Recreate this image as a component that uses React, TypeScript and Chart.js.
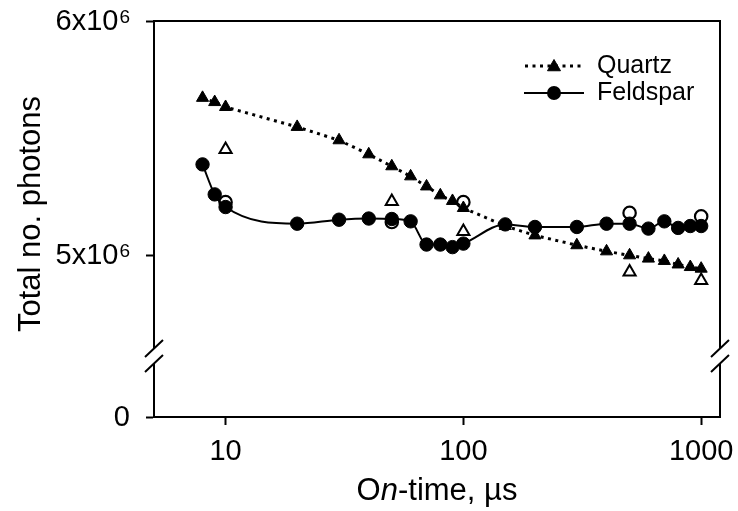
import React, { useEffect, useRef } from 'react';
import { Chart, registerables } from 'chart.js';

Chart.register(...registerables);

// ---------- data ----------
const onTimes = [8, 9, 10, 20, 30, 40, 50, 60, 70, 80, 90, 100, 150, 200, 300, 400, 500, 600, 700, 800, 900, 1000];
const quartzTotals = [5.672e6, 5.654e6, 5.633e6, 5.548e6, 5.491e6, 5.431e6, 5.38e6, 5.337e6, 5.294e6, 5.256e6, 5.232e6, 5.202e6, 5.125e6, 5.085e6, 5.043e6, 5.017e6, 5.0e6, 4.986e6, 4.976e6, 4.961e6, 4.95e6, 4.943e6];
const feldsparTotals = [5.388e6, 5.26e6, 5.206e6, 5.135e6, 5.152e6, 5.157e6, 5.155e6, 5.145e6, 5.046e6, 5.046e6, 5.035e6, 5.05e6, 5.132e6, 5.121e6, 5.121e6, 5.135e6, 5.135e6, 5.114e6, 5.145e6, 5.117e6, 5.125e6, 5.125e6];
const checkTimes = [10, 50, 100, 500, 1000];
const quartzCheck = [5.452e6, 5.23e6, 5.102e6, 4.929e6, 4.893e6];
const feldsparCheck = [5.227e6, 5.142e6, 5.227e6, 5.181e6, 5.166e6];

const xTicks = [10, 100, 1000];
const X_MIN = 5;
const X_MAX = 1200;
// broken y axis: bottom of the axis stands for 0
const Y_BREAK_BOTTOM = 4.31e6;
const Y_MAX = 6e6;
const yTickValues = [Y_BREAK_BOTTOM, 5e6, 6e6];
const yTickMain = ['0', '5x10', '6x10'];
const yTickSup = ['', '6', '6'];
const BREAK_VALUE = 4.57e6;

const FONT = "'Liberation Sans', Arial, Helvetica, sans-serif";

const pts = (xs: number[], ys: number[]) => xs.map((x, i) => ({ x, y: ys[i] }));

function drawTriangle(ctx: CanvasRenderingContext2D, x: number, y: number, r: number) {
  ctx.beginPath();
  ctx.moveTo(x, y - r);
  ctx.lineTo(x + r * Math.sin(Math.PI / 3), y + r / 2);
  ctx.lineTo(x - r * Math.sin(Math.PI / 3), y + r / 2);
  ctx.closePath();
}

const decor = {
  id: 'decor',
  afterDraw(chart: any) {
    const { ctx, chartArea: ca, scales } = chart;
    const ys = scales.y;
    ctx.save();
    ctx.strokeStyle = '#000';
    ctx.fillStyle = '#000';
    ctx.lineWidth = 2;
    ctx.setLineDash([]);
    // top & right frame
    ctx.beginPath();
    ctx.moveTo(ca.left - 1, ca.top);
    ctx.lineTo(ca.right, ca.top);
    ctx.lineTo(ca.right, ca.bottom + 1);
    ctx.stroke();

    // axis breaks
    const yc = ys.getPixelForValue(BREAK_VALUE);
    for (const x of [ca.left, ca.right]) {
      ctx.fillStyle = '#fff';
      ctx.fillRect(x - 3, yc - 7.5, 6, 15);
      ctx.beginPath();
      for (const dy of [-7.5, 7.5]) {
        ctx.moveTo(x - 9, yc + dy + 8.5);
        ctx.lineTo(x + 9, yc + dy - 8.5);
      }
      ctx.stroke();
    }

    // y tick labels (with superscripts)
    ctx.fillStyle = '#000';
    const rightX = ca.left - 24;
    yTickValues.forEach((v, i) => {
      const y = ys.getPixelForValue(v) + 1;
      ctx.font = `19px ${FONT}`;
      const sup = yTickSup[i];
      const supW = sup ? ctx.measureText(sup).width : 0;
      if (sup) {
        ctx.textAlign = 'right';
        ctx.textBaseline = 'alphabetic';
        ctx.fillText(sup, rightX, y + 0.5);
      }
      ctx.font = `29px ${FONT}`;
      ctx.textAlign = 'right';
      ctx.textBaseline = 'middle';
      ctx.fillText(yTickMain[i], rightX - (sup ? supW + 1 : 0), y);
    });

    // x title with italic n
    const parts: [string, boolean][] = [['O', false], ['n', true], ['-time, µs', false]];
    let total = 0;
    const widths = parts.map(([t, it]) => {
      ctx.font = `${it ? 'italic ' : ''}31px ${FONT}`;
      const w = ctx.measureText(t).width;
      total += w;
      return w;
    });
    let cx = (ca.left + ca.right) / 2 - total / 2;
    ctx.textAlign = 'left';
    ctx.textBaseline = 'alphabetic';
    parts.forEach(([t, it], i) => {
      ctx.font = `${it ? 'italic ' : ''}31px ${FONT}`;
      ctx.fillText(t, cx, 500);
      cx += widths[i];
    });

    // y title
    ctx.save();
    ctx.translate(40, 214);
    ctx.rotate(-Math.PI / 2);
    ctx.font = `31px ${FONT}`;
    ctx.textAlign = 'center';
    ctx.textBaseline = 'alphabetic';
    ctx.fillText('Total no. photons', 0, 0);
    ctx.restore();

    // legend
    const lx0 = 525, lx1 = 582, mx = 554, tx = 597;
    const y1 = 66, y2 = 93;
    ctx.lineWidth = 3;
    ctx.setLineDash([3, 4.5]);
    ctx.beginPath();
    ctx.moveTo(lx0, y1);
    ctx.lineTo(lx1, y1);
    ctx.stroke();
    ctx.setLineDash([]);
    ctx.lineWidth = 1;
    drawTriangle(ctx, mx, y1 + 1, 7.5);
    ctx.fill();
    ctx.stroke();
    ctx.lineWidth = 2;
    ctx.beginPath();
    ctx.moveTo(lx0 - 1, y2);
    ctx.lineTo(lx1 + 2, y2);
    ctx.stroke();
    ctx.beginPath();
    ctx.arc(mx, y2, 7, 0, Math.PI * 2);
    ctx.fill();
    ctx.font = `25px ${FONT}`;
    ctx.textAlign = 'left';
    ctx.textBaseline = 'middle';
    ctx.fillText('Quartz', tx, y1);
    ctx.fillText('Feldspar', tx, y2);
    ctx.restore();
  },
};

const zeroPad = (s: any) => {
  s.paddingLeft = 0;
  s.paddingRight = 0;
  s.paddingTop = 0;
  s.paddingBottom = 0;
};

export default function App() {
  const ref = useRef<HTMLCanvasElement | null>(null);
  useEffect(() => {
    if (!ref.current) return;
    const chart = new Chart(ref.current, {
      type: 'line',
      data: {
        datasets: [
          {
            label: 'Quartz',
            data: pts(onTimes, quartzTotals),
            borderColor: '#000',
            backgroundColor: '#000',
            borderWidth: 3,
            borderDash: [3, 4.5],
            pointStyle: 'triangle',
            pointRadius: 7,
            pointBorderWidth: 1,
            pointBackgroundColor: '#000',
            pointBorderColor: '#000',
            tension: 0,
          },
          {
            label: 'Feldspar',
            data: pts(onTimes, feldsparTotals),
            borderColor: '#000',
            backgroundColor: '#000',
            borderWidth: 2,
            pointStyle: 'circle',
            pointRadius: 6.7,
            pointBorderWidth: 1,
            pointBackgroundColor: '#000',
            pointBorderColor: '#000',
            cubicInterpolationMode: 'monotone',
          },
          {
            label: 'Quartz check',
            data: pts(checkTimes, quartzCheck),
            showLine: false,
            pointStyle: 'triangle',
            pointRadius: 7,
            pointBorderWidth: 2,
            pointBackgroundColor: '#fff',
            pointBorderColor: '#000',
          },
          {
            label: 'Feldspar check',
            data: pts(checkTimes, feldsparCheck),
            showLine: false,
            pointStyle: 'circle',
            pointRadius: 6.2,
            pointBorderWidth: 2.2,
            pointBackgroundColor: '#fff',
            pointBorderColor: '#000',
          },
        ],
      },
      options: {
        responsive: false,
        animation: false,
        events: [],
        layout: { padding: { left: 0, top: 21, right: 18, bottom: 0 } },
        plugins: { legend: { display: false }, tooltip: { enabled: false }, title: { display: false } },
        scales: {
          x: {
            type: 'logarithmic',
            min: X_MIN,
            max: X_MAX,
            position: 'bottom',
            afterBuildTicks: (s: any) => {
              s.ticks = xTicks.map((v) => ({ value: v }));
            },
            afterFit: (s: any) => {
              s.height = 94;
              zeroPad(s);
            },
            border: { display: true, color: '#000', width: 2 },
            grid: { drawOnChartArea: false, drawTicks: true, tickLength: 8, tickWidth: 2, tickColor: '#000' },
            ticks: {
              autoSkip: false,
              maxRotation: 0,
              padding: 10,
              color: '#000',
              font: { family: FONT, size: 29 },
              callback: (v: any) => String(v),
            },
          },
          y: {
            type: 'linear',
            min: Y_BREAK_BOTTOM,
            max: Y_MAX,
            afterBuildTicks: (s: any) => {
              s.ticks = yTickValues.map((v) => ({ value: v }));
            },
            afterFit: (s: any) => {
              s.width = 154;
              zeroPad(s);
            },
            border: { display: true, color: '#000', width: 2 },
            grid: { drawOnChartArea: false, drawTicks: true, tickLength: 8, tickWidth: 2, tickColor: '#000' },
            ticks: { display: false },
          },
        },
      },
      plugins: [decor],
    } as any);
    return () => chart.destroy();
  }, []);
  return (
    <div style={{ position: 'absolute', left: 0, top: 0, width: 738, height: 511, background: '#fff' }}>
      <canvas ref={ref} width={738} height={511} style={{ display: 'block' }} />
    </div>
  );
}
